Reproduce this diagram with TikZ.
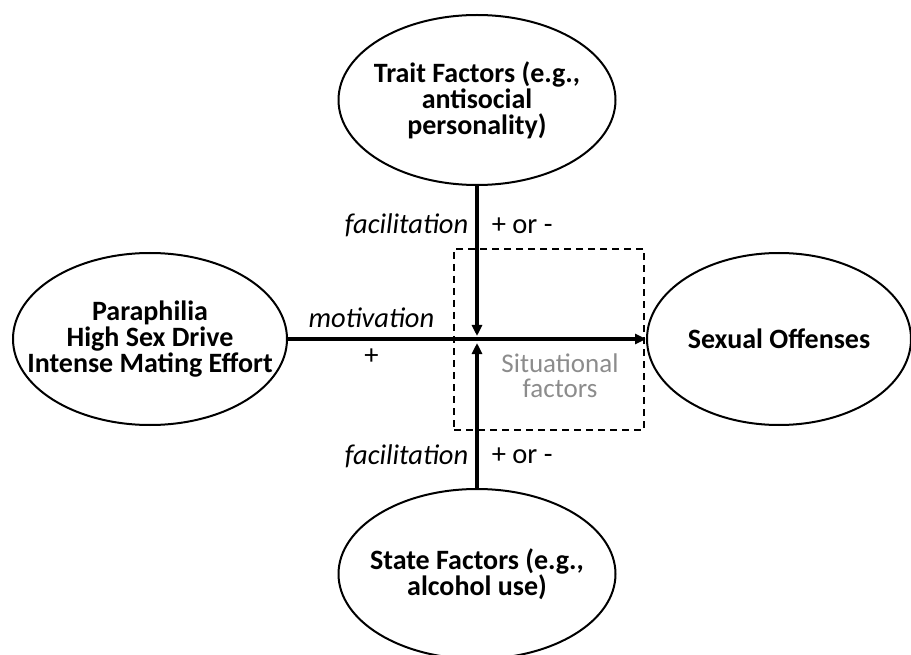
\documentclass[tikz,border=0pt]{standalone}
\usepackage{fontspec}
\setmainfont{Carlito}
\usetikzlibrary{positioning,arrows.meta,shapes.geometric}
\definecolor{sitGray}{RGB}{140,140,140}

\begin{document}
\begin{tikzpicture}[x=1pt, y=-1pt,
        factor/.style={draw, ellipse, line width=2pt, inner xsep=-30pt, inner ysep=0pt, align=center,
                       minimum width=277pt, minimum height=170pt,
                       font=\fontsize{28}{26}\selectfont\bfseries},
        arr/.style={line width=3.5pt, -{Triangle[length=11pt,width=10pt]}},
        lbl/.style={font=\fontsize{28.5}{30}\selectfont, inner sep=3pt},
        dashbox/.style={draw, line width=2pt, dash pattern=on 7pt off 5pt,
                        minimum width=190pt, minimum height=181pt, inner sep=0pt}
    ]
        \useasboundingbox (0,0) rectangle (911,655);
        \node[dashbox] (sitbox) at (549,339.5) {};
        \node[lbl, text=sitGray, align=center, font=\fontsize{27}{25}\selectfont] (sit) at (560,376) {Situational\\factors};
        \node[factor] (trait) at (477,100) {Trait Factors (e.g.,\\antisocial\\personality)};
        \node[factor, minimum width=274pt, minimum height=172pt] (para) at (150,339) {Paraphilia\\High Sex Drive\\Intense Mating Effort};
        \node[factor, minimum width=264pt, minimum height=172pt] (offense) at (779,339) {Sexual Offenses};
        \node[factor] (state) at (477,574) {State Factors (e.g.,\\alcohol use)};
        \coordinate (meetup) at (477,336);
        \coordinate (meetdown) at (477,343);
        % motivation path
        \draw[arr] (para.east) -- node[pos=0.233, lbl, above, yshift=7pt] {\itshape motivation}
                                  node[pos=0.233, lbl, below, yshift=-5pt] {+} (offense.west);
        % facilitation paths
        \draw[arr] (trait.south) -- node[pos=0.265, lbl, left, xshift=-4pt] {\itshape facilitation}
                                    node[pos=0.265, lbl, right, xshift=10pt] {+ or -} (meetup);
        \draw[arr] (state.north) -- node[pos=0.22, lbl, left, xshift=-4pt] {\itshape facilitation}
                                    node[pos=0.22, lbl, right, xshift=10pt] {+ or -} (meetdown);
    \end{tikzpicture}
\end{document}
